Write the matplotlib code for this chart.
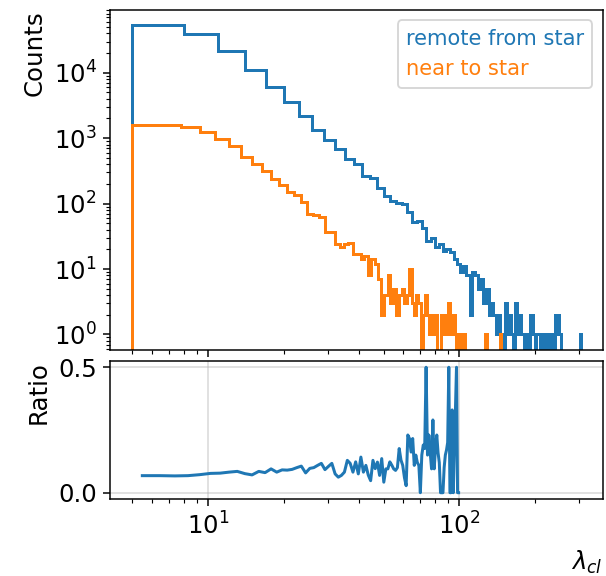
import matplotlib
matplotlib.use("Agg")
import matplotlib.pyplot as plt
import numpy as np

# histogram counts, 100 bins each
remote_counts = [52800, 39500, 21300, 11200, 6060, 3600, 2200, 1330, 930, 680,
                 475, 400, 262, 248, 172, 132, 111, 102, 100, 74,
                 52, 55, 42, 27, 30, 22, 24, 19, 20, 18,
                 14, 12, 9, 11, 8, 2, 9, 8, 5, 7,
                 3, 5, 2, 3, 2, 1, 2, 1, 0, 3,
                 1, 2, 1, 0, 3, 1, 2, 1, 1, 0,
                 1, 0, 2, 2, 1, 0, 1, 1, 0, 0,
                 1, 0, 0, 1, 0, 0, 1, 0, 0, 2,
                 1, 2, 1, 0, 0, 0, 0, 0, 0, 0,
                 0, 0, 0, 0, 0, 0, 0, 0, 0, 1]
remote_range = (5, 305)

near_counts = [1615, 1615, 1468, 1245, 955, 755, 510, 405, 320, 237,
               194, 148, 136, 105, 70, 66, 62, 37, 37, 24,
               22, 24, 25, 17, 17, 14, 16, 8, 14, 12,
               7, 2, 4, 8, 3, 5, 2, 4, 5, 3,
               4, 10, 3, 2, 4, 3, 0, 2, 4, 2,
               1, 2, 1, 2, 0, 0, 2, 1, 2, 1,
               3, 2, 1, 2, 1, 0, 1, 1, 0, 1,
               1, 0, 0, 0, 0, 0, 0, 0, 0, 0,
               0, 0, 0, 0, 0, 0, 1, 0, 0, 0,
               0, 0, 0, 0, 0, 0, 0, 0, 0, 1]
near_range = (5, 147)

# ratio near / remote on common bins
ratio_range = (5, 100)
ratio = [0.068, 0.068, 0.067, 0.068, 0.072, 0.077, 0.078, 0.082, 0.085, 0.076,
         0.071, 0.085, 0.080, 0.095, 0.082, 0.091, 0.090, 0.093, 0.100, 0.106,
         0.079, 0.097, 0.100, 0.109, 0.117, 0.092, 0.105, 0.117, 0.075, 0.062,
         0.069, 0.082, 0.129, 0.117, 0.082, 0.123, 0.075, 0.142, 0.082, 0.109,
         0.070, 0.048, 0.129, 0.096, 0.122, 0.069, 0.136, 0.042, 0.095, 0.095,
         0.123, 0.110, 0.095, 0.089, 0.100, 0.176, 0.130, 0.109, 0.060, 0.028,
         0.230, 0.216, 0.162, 0.216, 0.109, 0.150, 0.120, 0.109, 0.0, 0.150,
         0.190, 0.176, 0.5, 0.150, 0.230, 0.160, 0.095, 0.290, 0.095, 0.180,
         0.230, 0.160, 0.120, 0.0, 0.0, 0.0, 0.100, 0.150, 0.170, 0.200,
         0.5, 0.0, 0.0, 0.330, 0.0, 0.170, 0.330, 0.5, 0.0, 0.0]

plt.rcParams['font.size'] = 13

fig = plt.figure(figsize=(606/135, 576/135), dpi=135)
ax1 = fig.add_axes([0.1815, 0.3924, 0.8135, 0.5903])
ax2 = fig.add_axes([0.1815, 0.1337, 0.8135, 0.2396], sharex=ax1)

remote_edges = np.linspace(*remote_range, len(remote_counts) + 1)
near_edges = np.linspace(*near_range, len(near_counts) + 1)
ax1.stairs(remote_counts, remote_edges, color='tab:blue', lw=1.6, label='remote from star')
ax1.stairs(near_counts, near_edges, color='tab:orange', lw=1.6, label='near to star')
ax1.set_xscale('log')
ax1.set_yscale('log')
ax1.set_ylim(0.58, 9.1e4)
ax1.set_xlim(4.07, 374)
ax1.set_ylabel('Counts', loc='top')
ax1.tick_params(labelbottom=False)

leg = ax1.legend(loc='upper right', handlelength=0, handletextpad=0, fontsize=11.2)
for h in leg.legend_handles:
    h.set_visible(False)
for txt, c in zip(leg.get_texts(), ['tab:blue', 'tab:orange']):
    txt.set_color(c)

ratio_edges = np.linspace(*ratio_range, len(ratio) + 1)
ratio_x = 0.5 * (ratio_edges[1:] + ratio_edges[:-1])
ax2.plot(ratio_x, ratio, color='tab:blue', lw=1.6)
ax2.set_ylim(-0.025, 0.525)
ax2.set_yticks([0.0, 0.5])
ax2.grid(True, color='#b0b0b0', alpha=0.5)
ax2.set_ylabel('Ratio', loc='top')
ax2.set_xlabel(r'$\lambda_{cl}$', loc='right', labelpad=5)

fig.align_ylabels([ax1, ax2])

fig.savefig('out.png', dpi=135)
